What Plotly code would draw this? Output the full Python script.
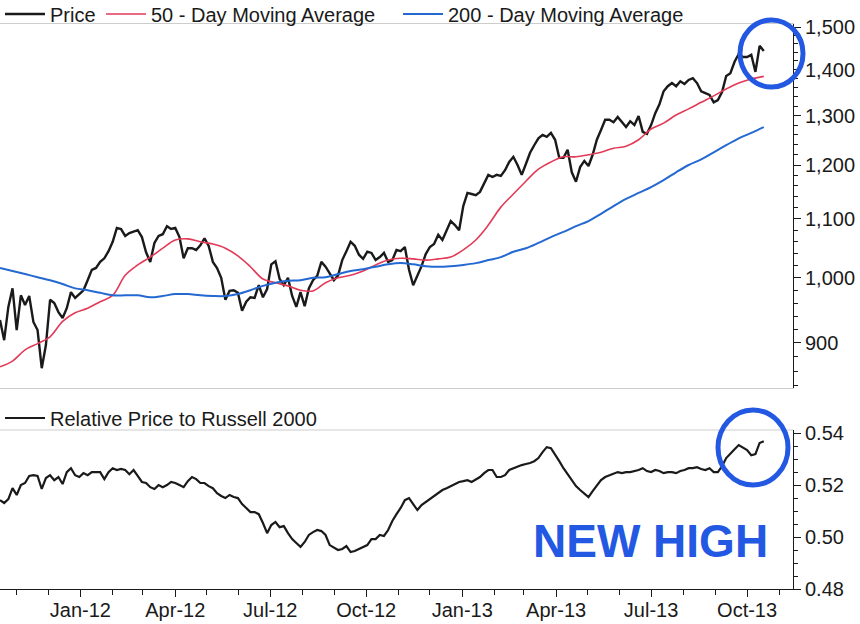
import pandas as pd
import plotly.graph_objects as go

# ---------------- data ----------------
price_dates = pd.date_range("2011-10-16", periods=184, freq="4D")
ma_dates = pd.date_range("2011-10-16", periods=62, freq="12D")

price = [
    934, 904, 954, 983, 919, 972, 957, 971, 931, 919,
    864, 897, 965, 960, 946, 937, 952, 977, 968, 974,
    980, 996, 1013, 1016, 1026, 1032, 1044, 1060, 1084, 1082,
    1070, 1075, 1077, 1080, 1068, 1042, 1026, 1058, 1070, 1073,
    1087, 1082, 1084, 1068, 1032, 1049, 1049, 1046, 1054, 1066,
    1053, 1026, 1016, 1000, 965, 979, 980, 976, 948, 962,
    969, 968, 988, 969, 982, 1022, 1027, 998, 988, 1000,
    971, 954, 977, 955, 983, 996, 1003, 1026, 1018, 1008,
    996, 1004, 1029, 1044, 1060, 1053, 1038, 1031, 1043, 1041,
    1029, 1034, 1041, 1026, 1029, 1046, 1044, 1051, 1013, 988,
    1004, 1019, 1039, 1051, 1056, 1072, 1063, 1078, 1096, 1089,
    1080, 1123, 1147, 1145, 1143, 1149, 1164, 1181, 1177, 1181,
    1179, 1190, 1206, 1216, 1200, 1181, 1202, 1224, 1239, 1253,
    1260, 1256, 1264, 1250, 1214, 1214, 1230, 1186, 1168, 1196,
    1208, 1198, 1220, 1250, 1270, 1291, 1291, 1286, 1297, 1286,
    1276, 1288, 1280, 1299, 1266, 1262, 1280, 1305, 1324, 1352,
    1363, 1370, 1363, 1374, 1368, 1377, 1381, 1370, 1352, 1348,
    1344, 1328, 1333, 1350, 1386, 1392, 1418, 1436, 1429, 1429,
    1434, 1395, 1455, 1443,
]

ma50 = [
    866, 874, 890, 899, 909, 932, 945, 952, 962, 972,
    1004, 1021, 1034, 1049, 1063, 1065, 1060, 1056, 1049, 1036,
    1018, 998, 992, 987, 980, 979, 992, 1000, 1004, 1011,
    1021, 1029, 1032, 1031, 1029, 1031, 1034, 1046, 1063, 1089,
    1121, 1145, 1169, 1192, 1206, 1216, 1216, 1220, 1225, 1233,
    1237, 1250, 1272, 1284, 1301, 1314, 1328, 1342, 1357, 1370,
    1379, 1385,
]

ma200 = [
    1016, 1011, 1006, 1001, 996, 990, 983, 980, 976, 972,
    972, 972, 969, 971, 974, 974, 972, 971, 971, 974,
    980, 987, 992, 995, 996, 1000, 1001, 1006, 1011, 1014,
    1018, 1022, 1024, 1022, 1019, 1018, 1019, 1021, 1024, 1029,
    1034, 1043, 1049, 1058, 1068, 1077, 1087, 1096, 1109, 1123,
    1136, 1147, 1158, 1171, 1186, 1200, 1211, 1225, 1239, 1253,
    1264, 1276,
]

rel_price = [
    0.5142, 0.5131, 0.5146, 0.5188, 0.5162, 0.5200, 0.5208, 0.5235, 0.5238, 0.5235,
    0.5185, 0.5227, 0.5238, 0.5219, 0.5231, 0.5204, 0.5250, 0.5265, 0.5238, 0.5231,
    0.5246, 0.5238, 0.5250, 0.5250, 0.5250, 0.5223, 0.5250, 0.5265, 0.5258, 0.5262,
    0.5258, 0.5242, 0.5258, 0.5235, 0.5212, 0.5208, 0.5192, 0.5185, 0.5200, 0.5192,
    0.5200, 0.5212, 0.5208, 0.5200, 0.5192, 0.5215, 0.5231, 0.5223, 0.5208, 0.5208,
    0.5196, 0.5188, 0.5169, 0.5158, 0.5150, 0.5162, 0.5154, 0.5150, 0.5127, 0.5112,
    0.5096, 0.5096, 0.5088, 0.5054, 0.5015, 0.5046, 0.5058, 0.5038, 0.5042, 0.5015,
    0.4992, 0.4977, 0.4962, 0.4981, 0.5008, 0.5019, 0.5027, 0.5023, 0.5008, 0.4969,
    0.4958, 0.4950, 0.4954, 0.4965, 0.4942, 0.4946, 0.4954, 0.4962, 0.4969, 0.4992,
    0.4992, 0.5008, 0.5004, 0.5027, 0.5062, 0.5088, 0.5112, 0.5142, 0.5150, 0.5127,
    0.5104, 0.5123, 0.5135, 0.5146, 0.5158, 0.5169, 0.5181, 0.5188, 0.5196, 0.5204,
    0.5212, 0.5215, 0.5219, 0.5212, 0.5223, 0.5231, 0.5246, 0.5258, 0.5258, 0.5231,
    0.5231, 0.5238, 0.5258, 0.5265, 0.5269, 0.5277, 0.5281, 0.5285, 0.5292, 0.5304,
    0.5327, 0.5346, 0.5342, 0.5319, 0.5292, 0.5265, 0.5242, 0.5219, 0.5196, 0.5181,
    0.5169, 0.5154, 0.5177, 0.5200, 0.5219, 0.5231, 0.5238, 0.5246, 0.5250, 0.5246,
    0.5250, 0.5250, 0.5254, 0.5258, 0.5265, 0.5254, 0.5250, 0.5258, 0.5254, 0.5246,
    0.5250, 0.5250, 0.5246, 0.5254, 0.5258, 0.5265, 0.5265, 0.5269, 0.5262, 0.5258,
    0.5265, 0.5250, 0.5250, 0.5273, 0.5304, 0.5319, 0.5338, 0.5354, 0.5346, 0.5335,
    0.5315, 0.5319, 0.5362, 0.5369,
]

quarter_ticks = ["2012-01-01", "2012-04-01", "2012-07-01", "2012-10-01",
                 "2013-01-01", "2013-04-01", "2013-07-01", "2013-10-01"]
price_ticks = [900, 1000, 1100, 1200, 1300, 1400, 1500]
price_minor_ticks = [840, 860, 880, 920, 940, 960, 980, 1020, 1040, 1060, 1080,
                     1120, 1140, 1160, 1180, 1220, 1240, 1260, 1280,
                     1320, 1340, 1360, 1380, 1420, 1440, 1460, 1480]
rel_ticks = [0.48, 0.50, 0.52, 0.54]

# ---------------- styling ----------------
FONT = "Liberation Sans, Arial, sans-serif"
INK = "#1a1a1a"
RED = "#e23a57"
BLUE = "#2468d2"
MARKER = "#2358e2"
GRID = "#cdcdcd"
x_range = ["2011-10-16", "2013-11-14"]

H = 589.0
W = 793.0
top_dom = [(H - 388) / H, (H - 24) / H]
bot_dom = [0, (H - 430) / H]

fig = go.Figure()
fig.add_trace(go.Scatter(x=price_dates, y=price, name="Price", mode="lines",
                         line=dict(color=INK, width=2.4), xaxis="x", yaxis="y",
                         legend="legend"))
fig.add_trace(go.Scatter(x=ma_dates, y=ma50, name="50 - Day Moving Average", mode="lines",
                         line=dict(color=RED, width=1.6, shape="spline"), xaxis="x", yaxis="y",
                         legend="legend3"))
fig.add_trace(go.Scatter(x=ma_dates, y=ma200, name="200 - Day Moving Average", mode="lines",
                         line=dict(color=BLUE, width=2, shape="spline"), xaxis="x", yaxis="y",
                         legend="legend4"))
fig.add_trace(go.Scatter(x=price_dates, y=rel_price, name="Relative Price to Russell 2000",
                         mode="lines", line=dict(color=INK, width=2.2), xaxis="x2", yaxis="y2",
                         legend="legend2"))

leg_common = dict(orientation="h", xanchor="left", bgcolor="rgba(0,0,0,0)",
                  font=dict(size=20, color=INK), itemwidth=40)
top_leg_y = (H - 14) / H

fig.update_layout(
    width=860, height=624,
    margin=dict(l=0, r=67, t=0, b=35, autoexpand=False),
    paper_bgcolor="white", plot_bgcolor="white",
    font=dict(family=FONT, size=20, color=INK),
    xaxis=dict(domain=[0, 1], anchor="y", range=x_range, type="date",
               showticklabels=False, ticks="", showgrid=False, zeroline=False,
               showline=True, linecolor=GRID, linewidth=1, mirror=True),
    yaxis=dict(domain=top_dom, type="log", range=[2.9226, 3.1782], side="right",
               tickmode="array", tickvals=price_ticks, tickformat=",d",
               showgrid=False, zeroline=False, showline=True, linecolor=INK, linewidth=1,
               ticks="outside", ticklen=7, tickcolor=INK,
               minor=dict(tickmode="array", tickvals=price_minor_ticks, ticks="outside",
                          ticklen=4, tickcolor=INK),
               tickfont=dict(size=20, color=INK)),
    xaxis2=dict(domain=[0, 1], anchor="y2", range=x_range, type="date",
                tickmode="array", tickvals=quarter_ticks, tickformat="%b-%y",
                ticks="outside", ticklen=7, tickcolor=INK, showgrid=False, zeroline=False,
                showline=True, linecolor=INK, linewidth=1, ticklabelstandoff=-4,
                minor=dict(dtick="M1", tick0="2011-11-01", ticks="outside", ticklen=5,
                           tickcolor=INK),
                tickfont=dict(size=20, color=INK)),
    yaxis2=dict(domain=bot_dom, range=[0.48, 0.5412], side="right",
                tickmode="array", tickvals=rel_ticks, tickformat=".2f",
                showgrid=False, zeroline=False, showline=True, linecolor=INK, linewidth=1,
                ticks="outside", ticklen=7, tickcolor=INK,
                minor=dict(dtick=0.005, tick0=0.48, ticks="outside", ticklen=4, tickcolor=INK),
                tickfont=dict(size=20, color=INK)),
    legend=dict(x=0, y=top_leg_y, yanchor="middle", **leg_common),
    legend3=dict(x=101 / W, y=top_leg_y, yanchor="middle", **leg_common),
    legend4=dict(x=398 / W, y=top_leg_y, yanchor="middle", **leg_common),
    legend2=dict(x=0, y=(H - 418) / H, yanchor="middle", **leg_common),
    showlegend=True,
)

# light grey frame line on top of the lower panel
fig.add_shape(type="line", xref="paper", yref="y2 domain", x0=0, x1=1, y0=1, y1=1,
              line=dict(color=GRID, width=1))

# hand-drawn marker annotations
fig.add_shape(type="circle", xref="paper", yref="paper",
              x0=740 / W, x1=803 / W, y0=(H - 87) / H, y1=(H - 20) / H,
              line=dict(color=MARKER, width=5))
fig.add_shape(type="circle", xref="paper", yref="paper",
              x0=718 / W, x1=788 / W, y0=(H - 485) / H, y1=(H - 410) / H,
              line=dict(color=MARKER, width=5))
fig.add_annotation(xref="paper", yref="paper", x=650 / W, y=(H - 541) / H,
                   xanchor="center", yanchor="middle",
                   text="<b>NEW HIGH</b>", showarrow=False,
                   font=dict(family=FONT, size=46, color=MARKER))

fig.write_html("out.html", config={"displayModeBar": False},
               post_script="document.body.style.margin='0';document.body.style.overflow='hidden';")
